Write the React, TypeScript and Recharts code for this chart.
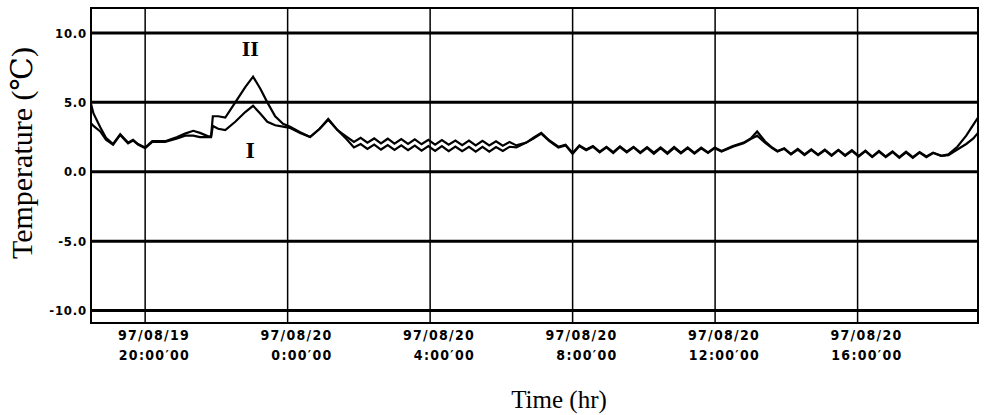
import { LineChart, Line, XAxis, YAxis, ReferenceLine, ReferenceArea, ReferenceDot } from 'recharts'

// time in hours counted from 97/08/19 0:00
const hours = [
    18.48, 18.55, 18.74, 18.9, 19.1, 19.3, 19.52, 19.66, 19.8, 20.0,
    20.2, 20.56, 20.9, 21.12, 21.35, 21.54, 21.77, 21.85, 21.9, 22.05,
    22.25, 22.53, 22.81, 23.03, 23.23, 23.43, 23.65, 23.87, 24.07, 24.35,
    24.63, 24.9, 25.14, 25.4,
    // zigzag, lines apart
    25.67, 25.86, 26.05, 26.24, 26.43, 26.62, 26.81, 27.0, 27.19, 27.38,
    27.57, 27.76, 27.95, 28.14, 28.33, 28.52, 28.71, 28.9, 29.09, 29.28,
    29.47, 29.66, 29.85, 30.04, 30.23, 30.42,
    30.7, 30.9, 31.12, 31.35, 31.6, 31.8, 32.0,
    // zigzag 8:00 - 12:00
    32.19, 32.38, 32.57, 32.76, 32.95, 33.14, 33.33, 33.52, 33.71, 33.9,
    34.09, 34.28, 34.47, 34.66, 34.85, 35.04, 35.23, 35.42, 35.61, 35.8,
    35.99, 36.18,
    36.5, 36.8, 37.0, 37.18, 37.4, 37.6, 37.75,
    // zigzag 12:00 - end
    37.94, 38.13, 38.32, 38.51, 38.7, 38.89, 39.08, 39.27, 39.46, 39.65,
    39.84, 40.03, 40.22, 40.41, 40.6, 40.79, 40.98, 41.17, 41.36, 41.55,
    41.74, 41.93, 42.12,
    42.35, 42.55, 42.8, 43.05, 43.25, 43.38
]

const tempI = [
    3.5, 3.3, 2.9, 2.3, 1.95, 2.65, 2.05, 2.25, 1.95, 1.7,
    2.15, 2.15, 2.4, 2.6, 2.6, 2.5, 2.5, 2.5, 3.3, 3.1,
    3.0, 3.6, 4.3, 4.75, 4.2, 3.6, 3.35, 3.25, 3.15, 2.8,
    2.5, 3.1, 3.75, 3.0,
    2.3, 1.75, 2.0, 1.65, 1.95, 1.6, 1.92, 1.58, 1.9, 1.55,
    1.88, 1.52, 1.85, 1.5, 1.85, 1.48, 1.82, 1.48, 1.8, 1.45,
    1.8, 1.45, 1.78, 1.5, 1.8, 1.75,
    2.1, 2.4, 2.75, 2.2, 1.75, 1.9, 1.3,
    1.85, 1.55, 1.8, 1.4, 1.75, 1.35, 1.78, 1.4, 1.75, 1.35,
    1.72, 1.3, 1.7, 1.3, 1.72, 1.32, 1.7, 1.3, 1.68, 1.35,
    1.7, 1.45,
    1.8, 2.05, 2.35, 2.6, 2.1, 1.7, 1.45,
    1.65, 1.25, 1.6, 1.2, 1.58, 1.2, 1.55, 1.15, 1.55, 1.15,
    1.5, 1.1, 1.48, 1.05, 1.45, 1.05, 1.42, 1.0, 1.4, 1.0,
    1.38, 1.05, 1.35,
    1.15, 1.2, 1.6, 2.0, 2.4, 2.8
]

const tempII = [
    4.9, 4.2, 3.2, 2.45, 2.0, 2.7, 2.1, 2.3, 2.0, 1.75,
    2.2, 2.2, 2.5, 2.75, 2.95, 2.8, 2.55, 2.55, 4.0, 4.0,
    3.9, 5.0, 6.1, 6.85, 6.0, 5.0, 4.0, 3.45, 3.25, 2.85,
    2.5, 3.1, 3.8, 3.0,
    2.5, 2.15, 2.45, 2.1, 2.4, 2.05, 2.38, 2.02, 2.35, 2.0,
    2.33, 1.98, 2.3, 1.95, 2.28, 1.95, 2.25, 1.92, 2.25, 1.9,
    2.22, 1.9, 2.2, 1.88, 2.15, 1.9,
    2.1, 2.45, 2.8, 2.25, 1.8, 1.95, 1.35,
    1.9, 1.6, 1.85, 1.45, 1.8, 1.42, 1.82, 1.45, 1.8, 1.4,
    1.78, 1.38, 1.75, 1.36, 1.78, 1.38, 1.75, 1.36, 1.74, 1.4,
    1.75, 1.5,
    1.85, 2.1, 2.4, 2.9, 2.2, 1.75, 1.5,
    1.7, 1.28, 1.65, 1.25, 1.62, 1.24, 1.6, 1.2, 1.58, 1.2,
    1.55, 1.15, 1.52, 1.1, 1.5, 1.1, 1.46, 1.06, 1.44, 1.05,
    1.42, 1.1, 1.38,
    1.15, 1.25, 1.8, 2.6, 3.4, 3.9
]

const xTicks = [20, 24, 28, 32, 36, 40]
const xDates = ['97/08/19', '97/08/20', '97/08/20', '97/08/20', '97/08/20', '97/08/20']
const xTimes = ['20:00′00', '0:00′00', '4:00′00', '8:00′00', '12:00′00', '16:00′00']
const yTicks = [-10, -5, 0, 5, 10]

const X_DOMAIN = [18.48, 43.38]
const Y_DOMAIN = [-10.9, 11.8]

const tickFont = "'Liberation Sans Narrow', 'DejaVu Sans Condensed', 'Arial Narrow', sans-serif"
const serif = "'Liberation Serif', 'Times New Roman', 'DejaVu Serif', serif"

const chartData = hours.map((h, i) => ({ h, I: tempI[i], II: tempII[i] }))

function TimeTick({ x, y, index }: any) {
    return (
        <g fontFamily={tickFont} fontWeight="bold" fontSize={14} fill="#000" letterSpacing={1.3}>
            <text x={x + 45} y={y + 15} textAnchor="end">{xDates[index]}</text>
            <text x={x + 45} y={y + 35} textAnchor="end">{xTimes[index]}</text>
        </g>
    )
}

export default function App() {
    return (
        <div style={{ position: 'absolute', left: 0, top: 0, width: 986, height: 415, background: '#fff' }}>
            <LineChart
                width={986}
                height={415}
                data={chartData}
                margin={{ top: 8, right: 8, bottom: 42, left: 41 }}
            >
                <XAxis
                    dataKey="h"
                    type="number"
                    domain={X_DOMAIN}
                    ticks={xTicks}
                    height={50}
                    tickLine={false}
                    tickSize={0}
                    axisLine={{ stroke: '#000', strokeWidth: 2 }}
                    tick={<TimeTick />}
                    allowDataOverflow
                />
                <YAxis
                    type="number"
                    domain={Y_DOMAIN}
                    ticks={yTicks}
                    width={50}
                    tickLine={false}
                    tickSize={0}
                    tickMargin={4}
                    axisLine={{ stroke: '#000', strokeWidth: 2 }}
                    tickFormatter={(v: number) => v.toFixed(1)}
                    tick={{ fill: '#000', fontSize: 13, fontWeight: 'bold', fontFamily: tickFont, letterSpacing: 0.8 }}
                    allowDataOverflow
                />
                {xTicks.map(t => (
                    <ReferenceLine key={'v' + t} x={t} stroke="#000" strokeWidth={1.5} />
                ))}
                {yTicks.map(t => (
                    <ReferenceLine key={'h' + t} y={t} stroke="#000" strokeWidth={3} />
                ))}
                <ReferenceArea
                    x1={X_DOMAIN[0]}
                    x2={X_DOMAIN[1]}
                    y1={Y_DOMAIN[0]}
                    y2={Y_DOMAIN[1]}
                    fill="none"
                    fillOpacity={0}
                    stroke="#000"
                    strokeWidth={2}
                />
                <Line type="linear" dataKey="II" stroke="#000" strokeWidth={2.2} dot={false} isAnimationActive={false} />
                <Line type="linear" dataKey="I" stroke="#000" strokeWidth={2.2} dot={false} isAnimationActive={false} />
                <ReferenceDot
                    x={22.95}
                    y={8.9}
                    r={0}
                    label={{ value: 'II', position: 'center', fill: '#000', fontSize: 22, fontWeight: 'bold', fontFamily: serif }}
                />
                <ReferenceDot
                    x={22.95}
                    y={1.6}
                    r={0}
                    label={{ value: 'I', position: 'center', fill: '#000', fontSize: 24, fontWeight: 'bold', fontFamily: serif }}
                />
            </LineChart>
            {/* axis titles drawn on top as svg text */}
            <svg width={986} height={415} style={{ position: 'absolute', left: 0, top: 0, pointerEvents: 'none' }}>
                <text
                    x={0}
                    y={0}
                    transform="translate(32 153) rotate(-90)"
                    textAnchor="middle"
                    fontFamily={serif}
                    fontSize={30}
                    fill="#000"
                >
                    Temperature (℃)
                </text>
                <text x={559} y={408} textAnchor="middle" fontFamily={serif} fontSize={25} fill="#000">
                    Time (hr)
                </text>
            </svg>
        </div>
    )
}
